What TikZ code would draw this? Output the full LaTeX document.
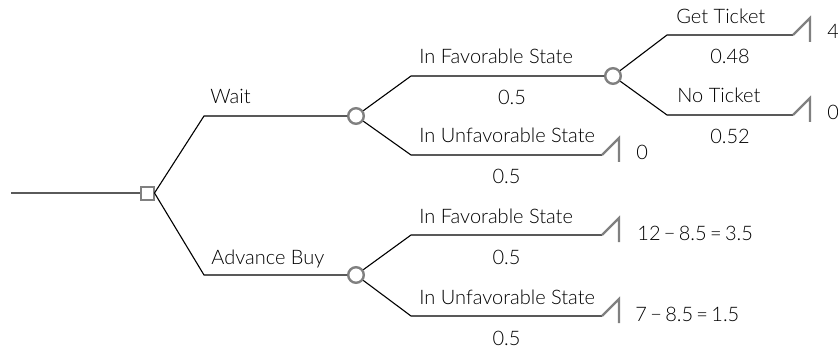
\documentclass[tikz,border=0pt]{standalone}
\usepackage{fontspec}
\setmainfont{Lato}[UprightFont={* Light}]
\usetikzlibrary{calc}
\usetikzlibrary{shapes,arrows}
\definecolor{symbolgray}{RGB}{128,128,128}
\definecolor{stemgray}{RGB}{90,90,90}

\begin{document}
\begin{tikzpicture}[x=0.5pt,y=-0.5pt,
    decisionnode/.style={rectangle, draw=symbolgray, line width=1pt, fill=white, minimum size=6.5pt, inner sep=0pt},
    chancenode/.style={circle, draw=symbolgray, line width=1.2pt, fill=white, minimum size=7.8pt, inner sep=0pt},
    branch/.style={draw=black, line width=0.55pt},
    endline/.style={draw=symbolgray, line width=1.1pt},
    labelnode/.style={anchor=base west, inner sep=0pt, font=\fontsize{10}{12}\selectfont},
    probnode/.style={anchor=base, inner sep=0pt, font=\fontsize{10}{12}\selectfont},
    payoffnode/.style={anchor=base west, inner sep=0pt, font=\fontsize{10}{12}\selectfont}
    ]
  \useasboundingbox (0,0) rectangle (838,347);
  % nodes
  \coordinate (Start) at (11,193);
  \node[decisionnode] (Decision) at (147,193) {};
  \coordinate (Wait Bend) at (204,116);
  \node[chancenode] (Wait Chance) at (356,116) {};
  \coordinate (Buy Bend) at (204,275);
  \node[chancenode] (Buy Chance) at (356,275) {};
  \coordinate (Fav Bend) at (411,76);
  \node[chancenode] (Ticket Chance) at (613,76) {};
  \coordinate (Unfav Bend) at (411,155);
  \coordinate (Unfav End) at (602,155);
  \coordinate (Get Bend) at (667,35);
  \coordinate (Get End) at (793,35);
  \coordinate (No Bend) at (667,115);
  \coordinate (No End) at (793,115);
  \coordinate (Buy Fav Bend) at (411,235);
  \coordinate (Buy Fav End) at (602,235);
  \coordinate (Buy Unfav Bend) at (411,316);
  \coordinate (Buy Unfav End) at (602,316);
  % labels
  \node[labelnode] (Wait) at ($(Wait Bend)+(6,-12)$) {Wait};
  \node[labelnode] (Advance Buy) at ($(Buy Bend)+(7,-11)$) {Advance Buy};
  \node[labelnode] (Fav) at ($(Fav Bend)+(8,-12)$) {In Favorable State};
  \node[probnode] (Fav Prob) at ($(Fav Bend)!0.5!(Ticket Chance)+(0,29)$) {0.5};
  \node[labelnode] (Unfav) at ($(Unfav Bend)+(8,-12)$) {In Unfavorable State};
  \node[probnode] (Unfav Prob) at ($(Unfav Bend)!0.5!(Unfav End)+(0,29)$) {0.5};
  \node[labelnode] (Get) at ($(Get Bend)+(9,-11)$) {Get Ticket};
  \node[probnode] (Get Prob) at ($(Get Bend)!0.5!(Get End)+(0,29)$) {0.48};
  \node[labelnode] (No) at ($(No Bend)+(10,-12)$) {No Ticket};
  \node[probnode] (No Prob) at ($(No Bend)!0.5!(No End)+(0,29)$) {0.52};
  \node[labelnode] (Buy Fav) at ($(Buy Fav Bend)+(8,-12)$) {In Favorable State};
  \node[probnode] (Buy Fav Prob) at ($(Buy Fav Bend)!0.5!(Buy Fav End)+(0,29)$) {0.5};
  \node[labelnode] (Buy Unfav) at ($(Buy Unfav Bend)+(8,-12)$) {In Unfavorable State};
  \node[probnode] (Buy Unfav Prob) at ($(Buy Unfav Bend)!0.5!(Buy Unfav End)+(0,29)$) {0.5};
  % payoffs
  \node[payoffnode] (Pay Get) at ($(Get End)+(34,4)$) {4};
  \node[payoffnode] (Pay No) at ($(No End)+(34,5)$) {0};
  \node[payoffnode] (Pay Unfav) at ($(Unfav End)+(34,5)$) {0};
  \node[payoffnode] (Pay Buy Fav) at ($(Buy Fav End)+(35,5)$) {12\,−\,8.5\,=\,3.5};
  \node[payoffnode] (Pay Buy Unfav) at ($(Buy Unfav End)+(33,5)$) {7\,−\,8.5\,=\,1.5};
  % branches
  \draw[draw=stemgray, line width=1pt] (Start) -- (Decision);
  \draw[branch] (Decision.east) -- (Wait Bend) -- (Wait Chance);
  \draw[branch] (Decision.east) -- (Buy Bend) -- (Buy Chance);
  \draw[branch] (Wait Chance) -- (Fav Bend) -- (Ticket Chance);
  \draw[branch] (Wait Chance) -- (Unfav Bend) -- (Unfav End);
  \draw[branch] (Ticket Chance) -- (Get Bend) -- (Get End);
  \draw[branch] (Ticket Chance) -- (No Bend) -- (No End);
  \draw[branch] (Buy Chance) -- (Buy Fav Bend) -- (Buy Fav End);
  \draw[branch] (Buy Chance) -- (Buy Unfav Bend) -- (Buy Unfav End);
  % end points
  \foreach \e in {Unfav End, Get End, No End, Buy Fav End, Buy Unfav End}
    \draw[endline] (\e) -- ++(17,-17) -- ++(0,24);
\end{tikzpicture}
\end{document}
